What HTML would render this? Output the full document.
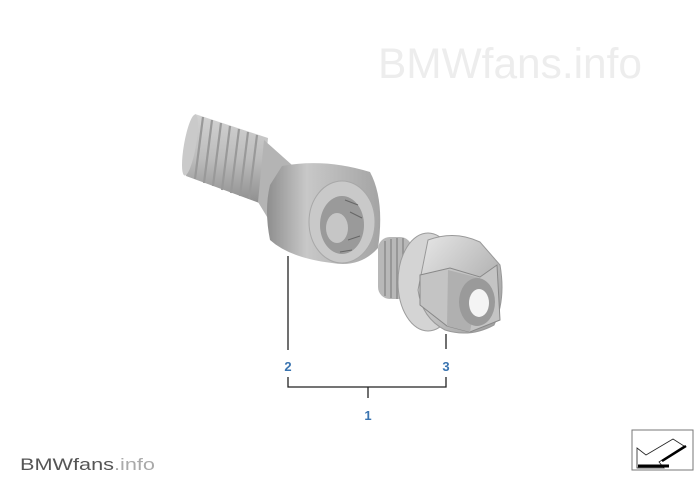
<!DOCTYPE html>
<html><head><meta charset="utf-8"><style>
html,body{margin:0;padding:0;background:#fff;}
svg{display:block;}
</style></head><body>
<svg width="700" height="490" viewBox="0 0 700 490" xmlns="http://www.w3.org/2000/svg">
<defs>
<linearGradient id="thr" x1="0" y1="0" x2="0" y2="1">
<stop offset="0" stop-color="#d2d2d2"/><stop offset="0.5" stop-color="#bcbcbc"/><stop offset="1" stop-color="#8e8e8e"/>
</linearGradient>
<linearGradient id="hd" x1="0" y1="0" x2="1" y2="0">
<stop offset="0" stop-color="#8e8e8e"/><stop offset="0.35" stop-color="#c8c8c8"/><stop offset="1" stop-color="#a4a4a4"/>
</linearGradient>
<linearGradient id="nt" x1="0" y1="0" x2="1" y2="1">
<stop offset="0" stop-color="#e8e8e8"/><stop offset="1" stop-color="#9a9a9a"/>
</linearGradient>
</defs>
<text x="378" y="78" font-family="Liberation Sans, sans-serif" font-size="43" fill="#ededed" textLength="264" lengthAdjust="spacingAndGlyphs">BMWfans.info</text>
<!-- bolt thread -->
<polygon points="195,114 268,138 262,204 186,176" fill="url(#thr)"/>
<g stroke="#999" stroke-width="2.2">
<line x1="203" y1="117" x2="195" y2="179"/><line x1="212" y1="120" x2="204" y2="183"/><line x1="221" y1="123" x2="213" y2="186"/><line x1="230" y1="126" x2="222" y2="190"/><line x1="239" y1="129" x2="231" y2="193"/><line x1="248" y1="132" x2="240" y2="196"/><line x1="257" y1="135" x2="249" y2="199"/>
</g>
<ellipse cx="190" cy="145" rx="6" ry="31" fill="#cacaca" transform="rotate(10 190 145)"/>
<!-- neck -->
<polygon points="264,140 292,165 286,248 258,202" fill="#b4b4b4"/>
<!-- head -->
<path d="M282 166 Q325 158 370 172 Q385 200 378 248 Q360 268 332 263 Q290 258 270 240 Q264 210 270 185Z" fill="url(#hd)"/>
<ellipse cx="342" cy="222" rx="33" ry="41" fill="#c9c9c9" stroke="#a8a8a8"/>
<ellipse cx="342" cy="225" rx="22" ry="29" fill="#9a9a9a"/>
<ellipse cx="337" cy="228" rx="11" ry="15" fill="#c6c6c6"/>
<g stroke="#666" stroke-width="1"><line x1="345" y1="200" x2="358" y2="205"/><line x1="350" y1="212" x2="362" y2="218"/><line x1="348" y1="240" x2="360" y2="236"/><line x1="340" y1="252" x2="352" y2="250"/></g>
<!-- nut splines -->
<rect x="378" y="237" width="34" height="62" rx="12" fill="#b8b8b8"/>
<g stroke="#8c8c8c" stroke-width="1.5"><line x1="385" y1="241" x2="385" y2="296"/><line x1="391" y1="239" x2="391" y2="298"/><line x1="397" y1="238" x2="397" y2="299"/><line x1="403" y1="238" x2="403" y2="299"/></g>
<!-- flange -->
<ellipse cx="428" cy="282" rx="30" ry="49" fill="#d4d4d4" stroke="#9c9c9c"/>
<!-- hex body -->
<path d="M428 240 Q455 230 480 242 L500 265 Q506 300 494 325 Q470 338 445 330 Q422 318 418 290 Z" fill="url(#nt)" stroke="#999"/>
<polygon points="420,275 450,268 480,277 497,265 500,320 470,332 447,326 420,305" fill="#c4c4c4" stroke="#888"/>
<polygon points="448,270 480,278 470,332 447,326" fill="#b0b0b0"/>
<ellipse cx="477" cy="302" rx="18" ry="24" fill="#9a9a9a"/>
<ellipse cx="479" cy="303" rx="10" ry="14" fill="#f4f4f4"/>
<!-- leaders -->
<g stroke="#222" stroke-width="1.3" fill="none">
<line x1="288" y1="256" x2="288" y2="350"/>
<line x1="446" y1="334" x2="446" y2="349"/>
<polyline points="288,377 288,387 446,387 446,377"/>
<line x1="368" y1="387" x2="368" y2="398"/>
</g>
<g font-family="Liberation Sans, sans-serif" font-size="13" font-weight="bold" fill="#3a74b0" text-anchor="middle">
<text x="288" y="371">2</text><text x="446" y="371">3</text><text x="368" y="420">1</text>
</g>
<text x="20" y="470" font-family="Liberation Sans, sans-serif" font-size="17" fill="#555" textLength="135" lengthAdjust="spacingAndGlyphs">BMWfans<tspan fill="#aaa">.info</tspan></text>
<!-- icon -->
<rect x="632" y="430" width="61" height="40" fill="#fff" stroke="#777"/>
<path d="M637 448 L646 455 L673 439 L684 446 L659 462 L664 468 L637 468Z" fill="#fff" stroke="#222" stroke-width="0.8"/>
<line x1="638" y1="466" x2="669" y2="466" stroke="#000" stroke-width="3"/>
<line x1="662" y1="461" x2="686" y2="446" stroke="#000" stroke-width="2.5"/>
</svg>
</body></html>
